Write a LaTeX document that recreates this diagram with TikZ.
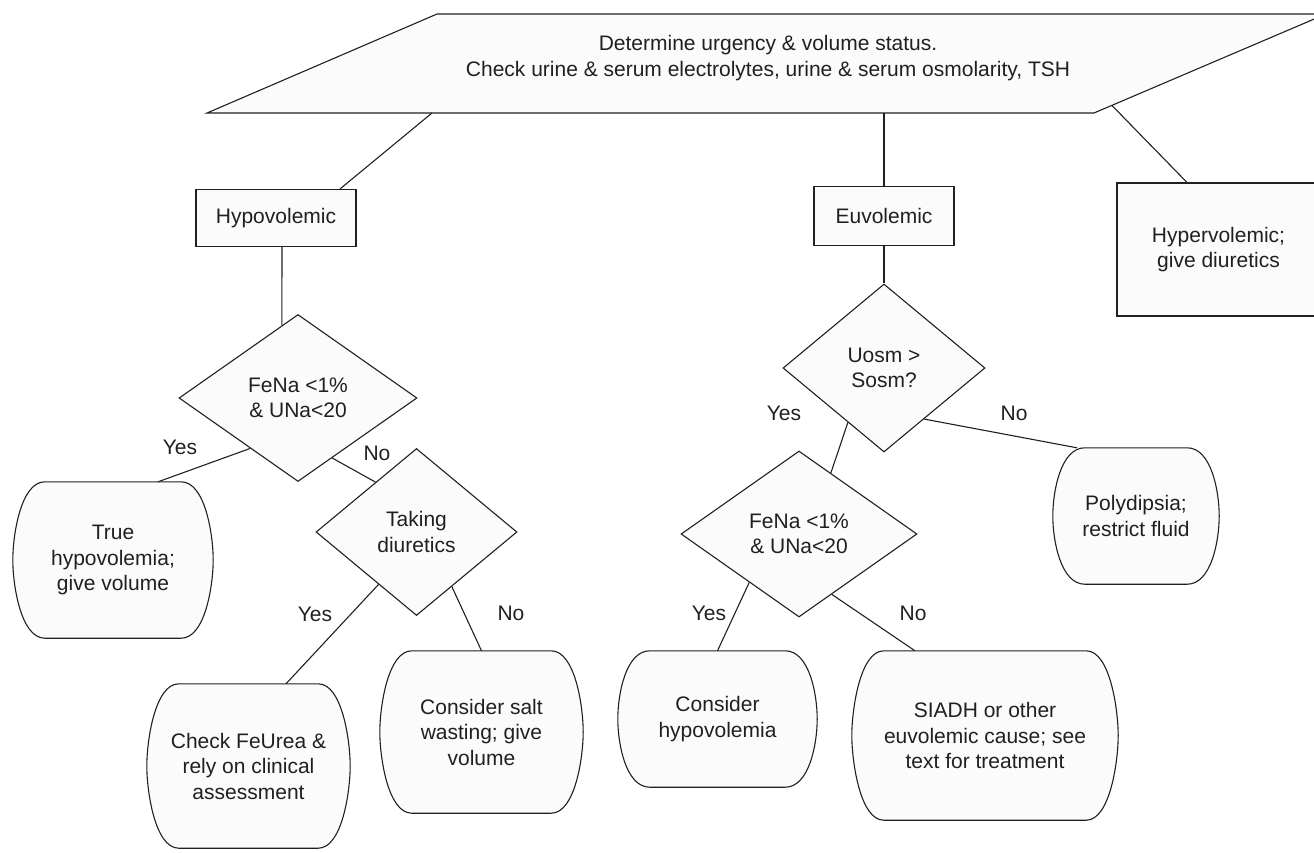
\documentclass[tikz,border=0pt]{standalone}
\usepackage{fontspec}
\setmainfont{Liberation Sans}
\usetikzlibrary{shapes.geometric,calc,backgrounds}
\definecolor{ink}{HTML}{231F20}
\definecolor{paper}{HTML}{FBFBFB}

% Outline of a soft-cornered terminal box, drawn round a named node
\newcommand\softoutline[1]{%
  \begin{scope}[on background layer]
  \filldraw[fill=paper,draw=ink,line width=1.1pt]
    ([xshift=32pt]#1.north west) -- ([xshift=-32pt]#1.north east)
    .. controls ([xshift=-8pt]#1.north east) and ([yshift=25pt]#1.east) .. (#1.east)
    .. controls ([yshift=-25pt]#1.east) and ([xshift=-8pt]#1.south east) .. ([xshift=-32pt]#1.south east)
    -- ([xshift=32pt]#1.south west)
    .. controls ([xshift=8pt]#1.south west) and ([yshift=-25pt]#1.west) .. (#1.west)
    .. controls ([yshift=25pt]#1.west) and ([xshift=8pt]#1.north west) .. cycle;
  \end{scope}}

\begin{document}
\begin{tikzpicture}[x=1pt,y=-1pt,
  font=\fontsize{21}{25.5}\selectfont,
  txt/.style={text=ink,align=center,inner sep=0pt},
  rectbox/.style={txt,rectangle,draw=ink,fill=paper,line width=1.1pt},
  decision/.style={txt,diamond,draw=ink,fill=paper,line width=1.1pt},
  softbox/.style={txt,rectangle,draw=none},
  lbl/.style={text=ink,inner sep=0pt},
  conn/.style={draw=ink,line width=1.1pt}]

\useasboundingbox (0,0) rectangle (1314,852);

% ---- assessment step (parallelogram) ----
\coordinate (pBL) at (207,113);
\coordinate (pTL) at (437,14);
\coordinate (pTR) at (1326,14);
\coordinate (pBR) at (1094,113);
\filldraw[fill=paper,draw=ink,line width=1.1pt] (pBL) -- (pTL) -- (pTR) -- (pBR) -- cycle;
\node[txt] (assess) at (768,58)
  {Determine urgency \& volume status.\\Check urine \& serum electrolytes, urine \& serum osmolarity, TSH};
\coordinate (pHypo) at (432,113);
\coordinate (pEuvo) at (884,113);
\coordinate (pHyper) at ($(pBR)!0.077!(pTR)$);

% ---- volume status ----
\node[rectbox,minimum width=160pt,minimum height=57pt] (hypo) at (276,218) {Hypovolemic};
\node[rectbox,minimum width=140pt,minimum height=59pt] (euvo) at (884,216) {Euvolemic};
\node[rectbox,minimum width=203pt,minimum height=133pt] (hyper) at (1218.5,249.5) {Hypervolemic;\\give diuretics};

% ---- decisions ----
\node[decision,minimum width=238pt,minimum height=167pt] (fena1) at (298,398) {FeNa <1\%\\\& UNa<20};
\node[decision,minimum width=201pt,minimum height=167pt] (diur) at (416.5,532) {Taking\\diuretics};
\node[decision,minimum width=202pt,minimum height=168pt] (uosm) at (884,368) {Uosm >\\Sosm?};
\node[decision,minimum width=236pt,minimum height=166pt] (fena2) at (799,534) {FeNa <1\%\\\& UNa<20};

% ---- outcomes ----
\node[softbox,minimum width=200pt,minimum height=156pt] (truehypo) at (113,560) {True\\hypovolemia;\\give volume};
\node[softbox,minimum width=203pt,minimum height=164pt] (feurea) at (248.5,766) {Check FeUrea \&\\rely on clinical\\assessment};
\node[softbox,minimum width=203pt,minimum height=162pt] (salt) at (481.5,732) {Consider salt\\wasting; give\\volume};
\node[softbox,minimum width=199pt,minimum height=136pt] (conshypo) at (717.5,719) {Consider\\hypovolemia};
\node[softbox,minimum width=266pt,minimum height=169pt] (siadh) at (985,735.5) {SIADH or other\\euvolemic cause; see\\text for treatment};
\node[softbox,minimum width=166pt,minimum height=136pt] (poly) at (1136,516) {Polydipsia;\\restrict fluid};
\softoutline{truehypo}
\softoutline{feurea}
\softoutline{salt}
\softoutline{conshypo}
\softoutline{siadh}
\softoutline{poly}

% ---- connectors ----
\draw[conn] (pHypo) -- ([xshift=64pt]hypo.north);
\draw[conn] (pEuvo) -- (euvo.north);
\draw[conn] (pHyper) -- ([xshift=-31.5pt]hyper.north);
\draw[conn] ([xshift=6pt]hypo.south) -- ($(fena1.west)!0.865!(fena1.north)$);
\draw[conn] (euvo.south) -- (uosm.north);
\draw[conn] ($(fena1.west)!0.6!(fena1.south)$) -- ([xshift=45pt]truehypo.north);
\draw[conn] ($(fena1.south)!0.286!(fena1.east)$) -- ($(diur.west)!0.594!(diur.north)$);
\draw[conn] ($(diur.west)!0.624!(diur.south)$) -- ([xshift=37.5pt]feurea.north);
\draw[conn] ($(diur.south)!0.35!(diur.east)$) -- (salt.north);
\draw[conn] ($(uosm.west)!0.644!(uosm.south)$) -- ($(fena2.north)!0.269!(fena2.east)$);
\draw[conn] ($(uosm.south)!0.396!(uosm.east)$) -- ([xshift=-59pt]poly.north);
\draw[conn] ($(fena2.west)!0.58!(fena2.south)$) -- (conshypo.north);
\draw[conn] ($(fena2.south)!0.277!(fena2.east)$) -- ([xshift=-70pt]siadh.north);

% ---- branch labels ----
\node[lbl] (y1) at (180,447) {Yes};
\node[lbl] (n1) at (377,453) {No};
\node[lbl] (y2) at (315,614) {Yes};
\node[lbl] (n2) at (511,613) {No};
\node[lbl] (y3) at (784,413) {Yes};
\node[lbl] (n3) at (1014,413) {No};
\node[lbl] (y4) at (709,613) {Yes};
\node[lbl] (n4) at (913,613) {No};
\end{tikzpicture}
\end{document}
